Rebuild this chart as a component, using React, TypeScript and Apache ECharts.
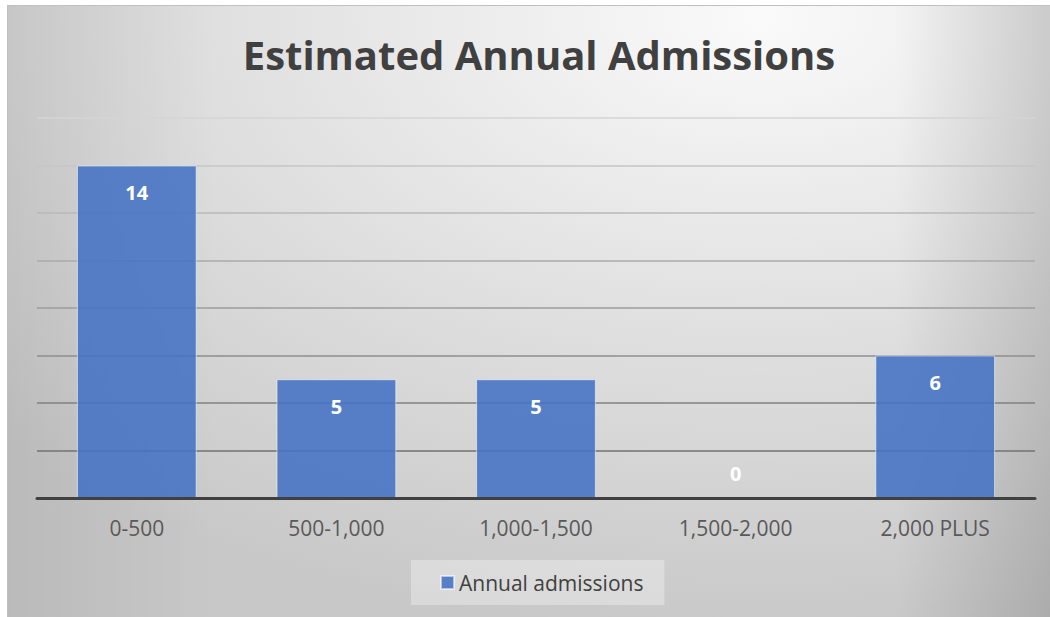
import React, { useEffect, useRef } from "react";
import * as echarts from "echarts";

const categories = ["0-500", "500-1,000", "1,000-1,500", "1,500-2,000", "2,000 PLUS"];
const admissions = [14, 5, 5, 0, 6];
const seriesName = "Annual admissions";
const chartTitle = "Estimated Annual Admissions";
const gridColors = ["#404040", "#727272", "#808080", "#8e8e8e", "#9c9c9c", "#aaaaaa", "#b8b8b8", "#c6c6c6", "#d4d4d4"];

const FONT = "'Open Sans', 'Noto Sans', sans-serif";

export default function App() {
  const ref = useRef<HTMLDivElement>(null);

  useEffect(() => {
    if (!ref.current) return;
    const chart = echarts.init(ref.current, undefined, { renderer: "svg" });

    const X0 = 7, Y0 = 5, X1 = 1052, Y1 = 620;
    const W = X1 - X0, H = Y1 - Y0;

    const data = admissions.map((v) =>
      v === 0
        ? { value: v, label: { position: "top", distance: 14 } }
        : { value: v }
    );

    chart.setOption({
      animation: false,
      textStyle: { fontFamily: FONT },
      graphic: {
        elements: [
          {
            type: "rect", z: -20, silent: true,
            shape: { x: X0, y: Y0, width: W, height: H },
            style: {
              fill: {
                type: "radial", x: 0.72, y: 0.02, r: 1,
                colorStops: [
                  { offset: 0, color: "#fafafa" },
                  { offset: 0.55, color: "#dedede" },
                  { offset: 1, color: "#c8c8c8" },
                ],
              },
            },
          },
          {
            type: "rect", z: -19, silent: true,
            shape: { x: X0, y: Y0, width: W, height: H },
            style: {
              fill: {
                type: "linear", x: 0, y: 0, x2: 1, y2: 0,
                colorStops: [
                  { offset: 0, color: "rgba(0,0,0,0.07)" },
                  { offset: 0.2, color: "rgba(0,0,0,0)" },
                  { offset: 0.85, color: "rgba(0,0,0,0)" },
                  { offset: 1, color: "rgba(0,0,0,0.14)" },
                ],
              },
            },
          },
          { type: "rect", z: -18, silent: true, shape: { x: X0 + 0.5, y: Y0 + 0.5, width: W, height: H }, style: { fill: "none", stroke: "#c0c0c0", lineWidth: 1 } },
        ],
      },
      title: {
        text: chartTitle,
        left: 534,
        top: 29,
        textAlign: "center",
        textStyle: { fontFamily: FONT, fontSize: 40, fontWeight: "bold", color: "#404040" },
      },
      legend: {
        data: [seriesName],
        left: 411,
        top: 560,
        padding: [12, 21, 12, 29],
        backgroundColor: "rgba(255,255,255,0.32)",
        itemWidth: 13,
        itemHeight: 13,
        icon: "rect",
        textStyle: { fontFamily: FONT, fontSize: 21, color: "#404040" },
      },
      grid: { left: 37, right: 15, top: 118, bottom: 119, containLabel: false },
      xAxis: {
        type: "category",
        data: categories,
        axisLine: { show: true, lineStyle: { color: "#404040", width: 3 } },
        axisTick: { show: false },
        axisLabel: { fontFamily: FONT, fontSize: 21, color: "#595959", margin: 19 },
        z: 3,
      },
      yAxis: {
        type: "value",
        min: 0,
        max: 16,
        interval: 2,
        axisLine: { show: false },
        axisTick: { show: false },
        axisLabel: { show: false },
        splitLine: { show: true, lineStyle: { color: gridColors, width: 1.5 } },
      },
      series: [
        {
          name: seriesName,
          type: "bar",
          data,
          barWidth: "60%",
          itemStyle: {
            color: "rgba(68,114,196,0.88)",
            borderColor: "rgba(255,255,255,0.55)",
            borderWidth: 1,
          },
          label: {
            show: true,
            position: "insideTop",
            distance: 17,
            color: "#ffffff",
            fontFamily: FONT,
            fontSize: 20,
            fontWeight: "bold",
          },
        },
      ],
    });

    return () => chart.dispose();
  }, []);

  return (
    <div
      ref={ref}
      style={{ position: "absolute", left: 0, top: 0, width: 1050, height: 617 }}
    />
  );
}
